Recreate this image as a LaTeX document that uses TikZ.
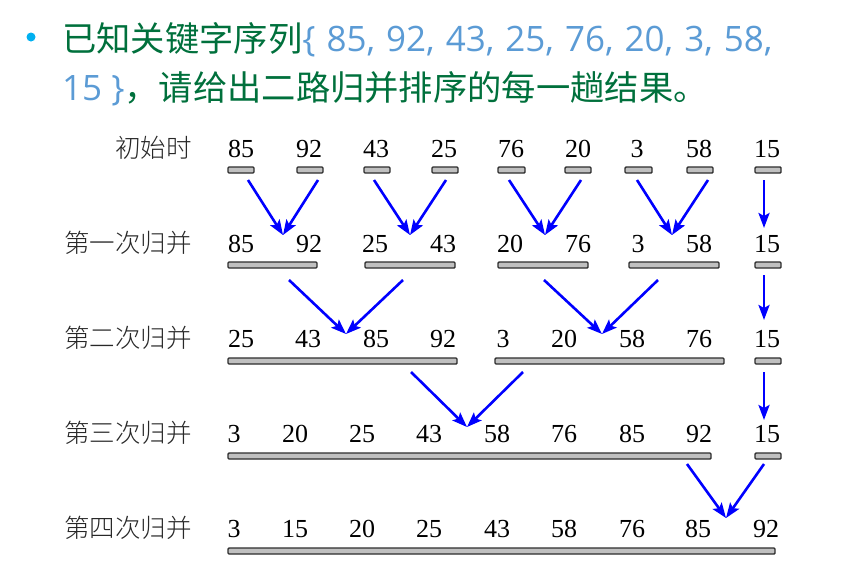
\documentclass[tikz,border=0pt]{standalone}
\usepackage{fontspec}
\usetikzlibrary{arrows.meta}
\newfontfamily\cjkfont{Noto Sans CJK SC}
\IfFontExistsTF{Noto Sans CJK SC Light}{\newfontfamily\labfont{Noto Sans CJK SC Light}}{\newfontfamily\labfont{Noto Sans CJK SC}}
\newfontfamily\latfont{Open Sans}
\newfontfamily\numfont{Liberation Serif}
\definecolor{tgreen}{RGB}{0,112,60}
\definecolor{tblue}{RGB}{91,155,213}
\definecolor{bulc}{RGB}{0,176,240}
\definecolor{arrc}{RGB}{0,0,255}
\definecolor{barfill}{RGB}{192,192,192}
\definecolor{barline}{RGB}{45,45,45}
\definecolor{labc}{RGB}{40,40,40}
\tikzset{
  titletext/.style={anchor=base west, inner sep=0pt},
  num/.style={anchor=base, inner sep=0pt, font=\numfont\fontsize{26pt}{30pt}\selectfont, text=black},
  lab/.style={anchor=base east, inner sep=0pt, font=\labfont\fontsize{25.5pt}{30pt}\selectfont, text=labc},
  bar/.style={draw=barline, fill=barfill, line width=1.4pt, rounded corners=1pt, minimum height=6pt, inner sep=0pt},
  arr/.style={draw=arrc, line width=2.6pt, -{Stealth[length=15pt,width=11pt,inset=3pt]}},
}
\newcommand{\cjksz}{\cjkfont\fontsize{34.3pt}{40pt}\selectfont}
\newcommand{\latsz}{\latfont\fontsize{35pt}{40pt}\selectfont}
\begin{document}
\begin{tikzpicture}[x=1pt,y=-1pt]
\useasboundingbox (0,0) rectangle (853,570);
% title
\node[circle, fill=bulc, minimum size=9pt, inner sep=0pt] (bul) at (31,37) {};
\node[titletext] (title1) at (62,51) {\cjksz\color{tgreen}已知关键字序列\latsz\spaceskip=11pt\relax\color{tblue}\{ 85, 92, 43, 25, 76, 20, 3, 58,};
\node[titletext] (title2) at (62,100) {\latsz\color{tblue}15 \}\cjksz\color{tgreen}，请给出二路归并排序的每一趟结果。};
% labels
\node[lab] (l0) at (192,157) {初始时};
\node[lab] (l1) at (192,252) {第一次归并};
\node[lab] (l2) at (192,347) {第二次归并};
\node[lab] (l3) at (192,442) {第三次归并};
\node[lab] (l4) at (192,537) {第四次归并};
% numbers
\foreach \x/\v [count=\i] in {241/85,309/92,376/43,444/25,511/76,578/20,637/3,699/58,767/15}
  \node[num] (n0_\i) at (\x,157) {\v};
\foreach \x/\v [count=\i] in {241/85,309/92,375/25,443/43,510/20,578/76,638/3,699/58,767/15}
  \node[num] (n1_\i) at (\x,252) {\v};
\foreach \x/\v [count=\i] in {241/25,308/43,376/85,443/92,503/3,564/20,632/58,699/76,767/15}
  \node[num] (n2_\i) at (\x,347) {\v};
\foreach \x/\v [count=\i] in {234/3,295/20,362/25,429/43,497/58,564/76,632/85,699/92,767/15}
  \node[num] (n3_\i) at (\x,442) {\v};
\foreach \x/\v [count=\i] in {234/3,295/15,362/20,429/25,497/43,564/58,632/76,698/85,766/92}
  \node[num] (n4_\i) at (\x,537) {\v};
% bars
\foreach \a/\b [count=\i] in {228/254,297/323,364/390,432/458,498/525,565/591,625/652,687/713,755/781}
  \node[bar, minimum width={(\b-\a)*1pt}] (b0_\i) at ({(\a+\b)/2},170) {};
\foreach \a/\b [count=\i] in {228/317,365/455,498/588,629/719,755/781}
  \node[bar, minimum width={(\b-\a)*1pt}] (b1_\i) at ({(\a+\b)/2},265) {};
\foreach \a/\b [count=\i] in {228/457,495/724,755/781}
  \node[bar, minimum width={(\b-\a)*1pt}] (b2_\i) at ({(\a+\b)/2},361) {};
\foreach \a/\b [count=\i] in {228/711,755/781}
  \node[bar, minimum width={(\b-\a)*1pt}] (b3_\i) at ({(\a+\b)/2},456) {};
\node[bar, minimum width=547pt] (b4_1) at (501.5,551) {};
% arrow end points
\coordinate (s0a) at (248,180); \coordinate (s0b) at (318,180); \coordinate (t0ab) at (283,235);
\coordinate (s0c) at (374,180); \coordinate (s0d) at (446,180); \coordinate (t0cd) at (410,235);
\coordinate (s0e) at (509,180); \coordinate (s0f) at (581,180); \coordinate (t0ef) at (545,235);
\coordinate (s0g) at (637,180); \coordinate (s0h) at (708,180); \coordinate (t0gh) at (672,235);
\coordinate (s0i) at (764,180); \coordinate (t0i) at (764,228);
\coordinate (s1a) at (289,280); \coordinate (s1b) at (403,280); \coordinate (t1ab) at (346,334);
\coordinate (s1c) at (544,280); \coordinate (s1d) at (658,280); \coordinate (t1cd) at (602,334);
\coordinate (s1e) at (764,275); \coordinate (t1e) at (764,320);
\coordinate (s2a) at (411,372); \coordinate (s2b) at (523,372); \coordinate (t2ab) at (467,427);
\coordinate (s2c) at (764,372); \coordinate (t2c) at (764,420);
\coordinate (s3a) at (687,464); \coordinate (s3b) at (764,464); \coordinate (t3ab) at (726,518);
% arrows
\draw[arr] (s0a) -- (t0ab); \draw[arr] (s0b) -- (t0ab);
\draw[arr] (s0c) -- (t0cd); \draw[arr] (s0d) -- (t0cd);
\draw[arr] (s0e) -- (t0ef); \draw[arr] (s0f) -- (t0ef);
\draw[arr] (s0g) -- (t0gh); \draw[arr] (s0h) -- (t0gh);
\draw[arr] (s0i) -- (t0i);
\draw[arr] (s1a) -- (t1ab); \draw[arr] (s1b) -- (t1ab);
\draw[arr] (s1c) -- (t1cd); \draw[arr] (s1d) -- (t1cd);
\draw[arr] (s1e) -- (t1e);
\draw[arr] (s2a) -- (t2ab); \draw[arr] (s2b) -- (t2ab);
\draw[arr] (s2c) -- (t2c);
\draw[arr] (s3a) -- (t3ab); \draw[arr] (s3b) -- (t3ab);
\end{tikzpicture}
\end{document}
